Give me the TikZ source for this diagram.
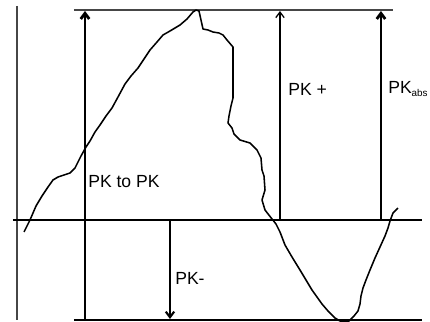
\documentclass[tikz,border=0pt]{standalone}
\usepackage{fontspec}
\setmainfont{Liberation Sans}
\usepackage{tikz}
\usetikzlibrary{calc, positioning, arrows.meta}
\definecolor{axisgray}{RGB}{70, 70, 70}

\begin{document}
\begin{tikzpicture}[x=0.025cm, y=-0.025cm, >={Straight Barb[length=4pt, width=6pt]},
    font=\fontsize{12.5}{14}\selectfont,
    thinline/.style={line width=0.9pt, axisgray},
    thickline/.style={line width=2pt, black},
    label/.style={anchor=west, inner sep=0pt}]
  \useasboundingbox (0,0) rectangle (430,322);

  % Reference levels
  \coordinate (axisTop) at (17, 6);
  \coordinate (axisBot) at (17, 320);
  \coordinate (topL) at (74, 10);
  \coordinate (topR) at (393, 10);
  \coordinate (zeroL) at (13, 220);
  \coordinate (zeroR) at (422, 220);
  \coordinate (botL) at (74, 320);
  \coordinate (botR) at (422, 320);

  \draw[thinline] (axisTop) -- (axisBot);
  \draw[thinline] (topL) -- (topR);
  \draw[thickline] (zeroL) -- (zeroR);
  \draw[thickline] (botL) -- (botR);

  % Waveform
  \draw[line width=1.1pt, line join=round] plot coordinates {
    (24,232) (27,226) (30,220) (36,206) (42,196) (48,187) (53,180) (58,177)
    (64,175) (70,173) (75,168) (78,162) (81,156) (86,147) (90,141) (95,132)
    (100,125) (106,116) (112,108) (118,97) (125,84) (131,76) (138,68) (144,59)
    (150,50) (157,42) (163,35) (170,31) (180,25) (187,19) (193,12) (196,10)
    (199,11) (201,20) (203,29) (208,30) (213,32) (219,33) (223,35) (227,40)
    (233,47) (233,98) (231,106) (229,116) (228,123) (232,128) (234,134)
    (240,140) (250,143) (257,150) (261,158) (262,170) (264,176) (265,190)
    (262,200) (265,210) (272,219) (276,224) (280,232) (285,245) (292,257)
    (300,270) (306,280) (312,290) (317,297) (322,304) (328,311) (335,318)
    (340,321) (349,321) (354,316) (358,311) (360,304) (361,296) (363,288)
    (366,280) (370,270) (375,258) (380,247) (385,236) (388,228) (390,221)
    (393,213) (398,208)};

  % Peak arrows
  \coordinate (ppBot) at (85, 320);
  \coordinate (ppTop) at (85, 11);
  \draw[thickline, ->] (ppBot) -- (ppTop);
  \coordinate (posBot) at (280, 220);
  \coordinate (posTop) at (280, 11);
  \draw[thinline, black, ->] (posBot) -- (posTop);
  \coordinate (absBot) at (381, 220);
  \coordinate (absTop) at (381, 11);
  \draw[thickline, ->] (absBot) -- (absTop);
  \coordinate (negTop) at (170, 220);
  \coordinate (negBot) at (170, 319);
  \draw[line width=1.5pt, ->] (negTop) -- (negBot);

  % Labels
  \node[label] (ppLabel) at (88, 182) {PK to PK};
  \node[label] (posLabel) at (288, 89) {PK +};
  \node[label] (absLabel) at (388, 89) {PK\raisebox{-2pt}{\fontsize{7}{7}\selectfont abs}};
  \node[label] (negLabel) at (175, 278) {PK-};
\end{tikzpicture}
\end{document}
